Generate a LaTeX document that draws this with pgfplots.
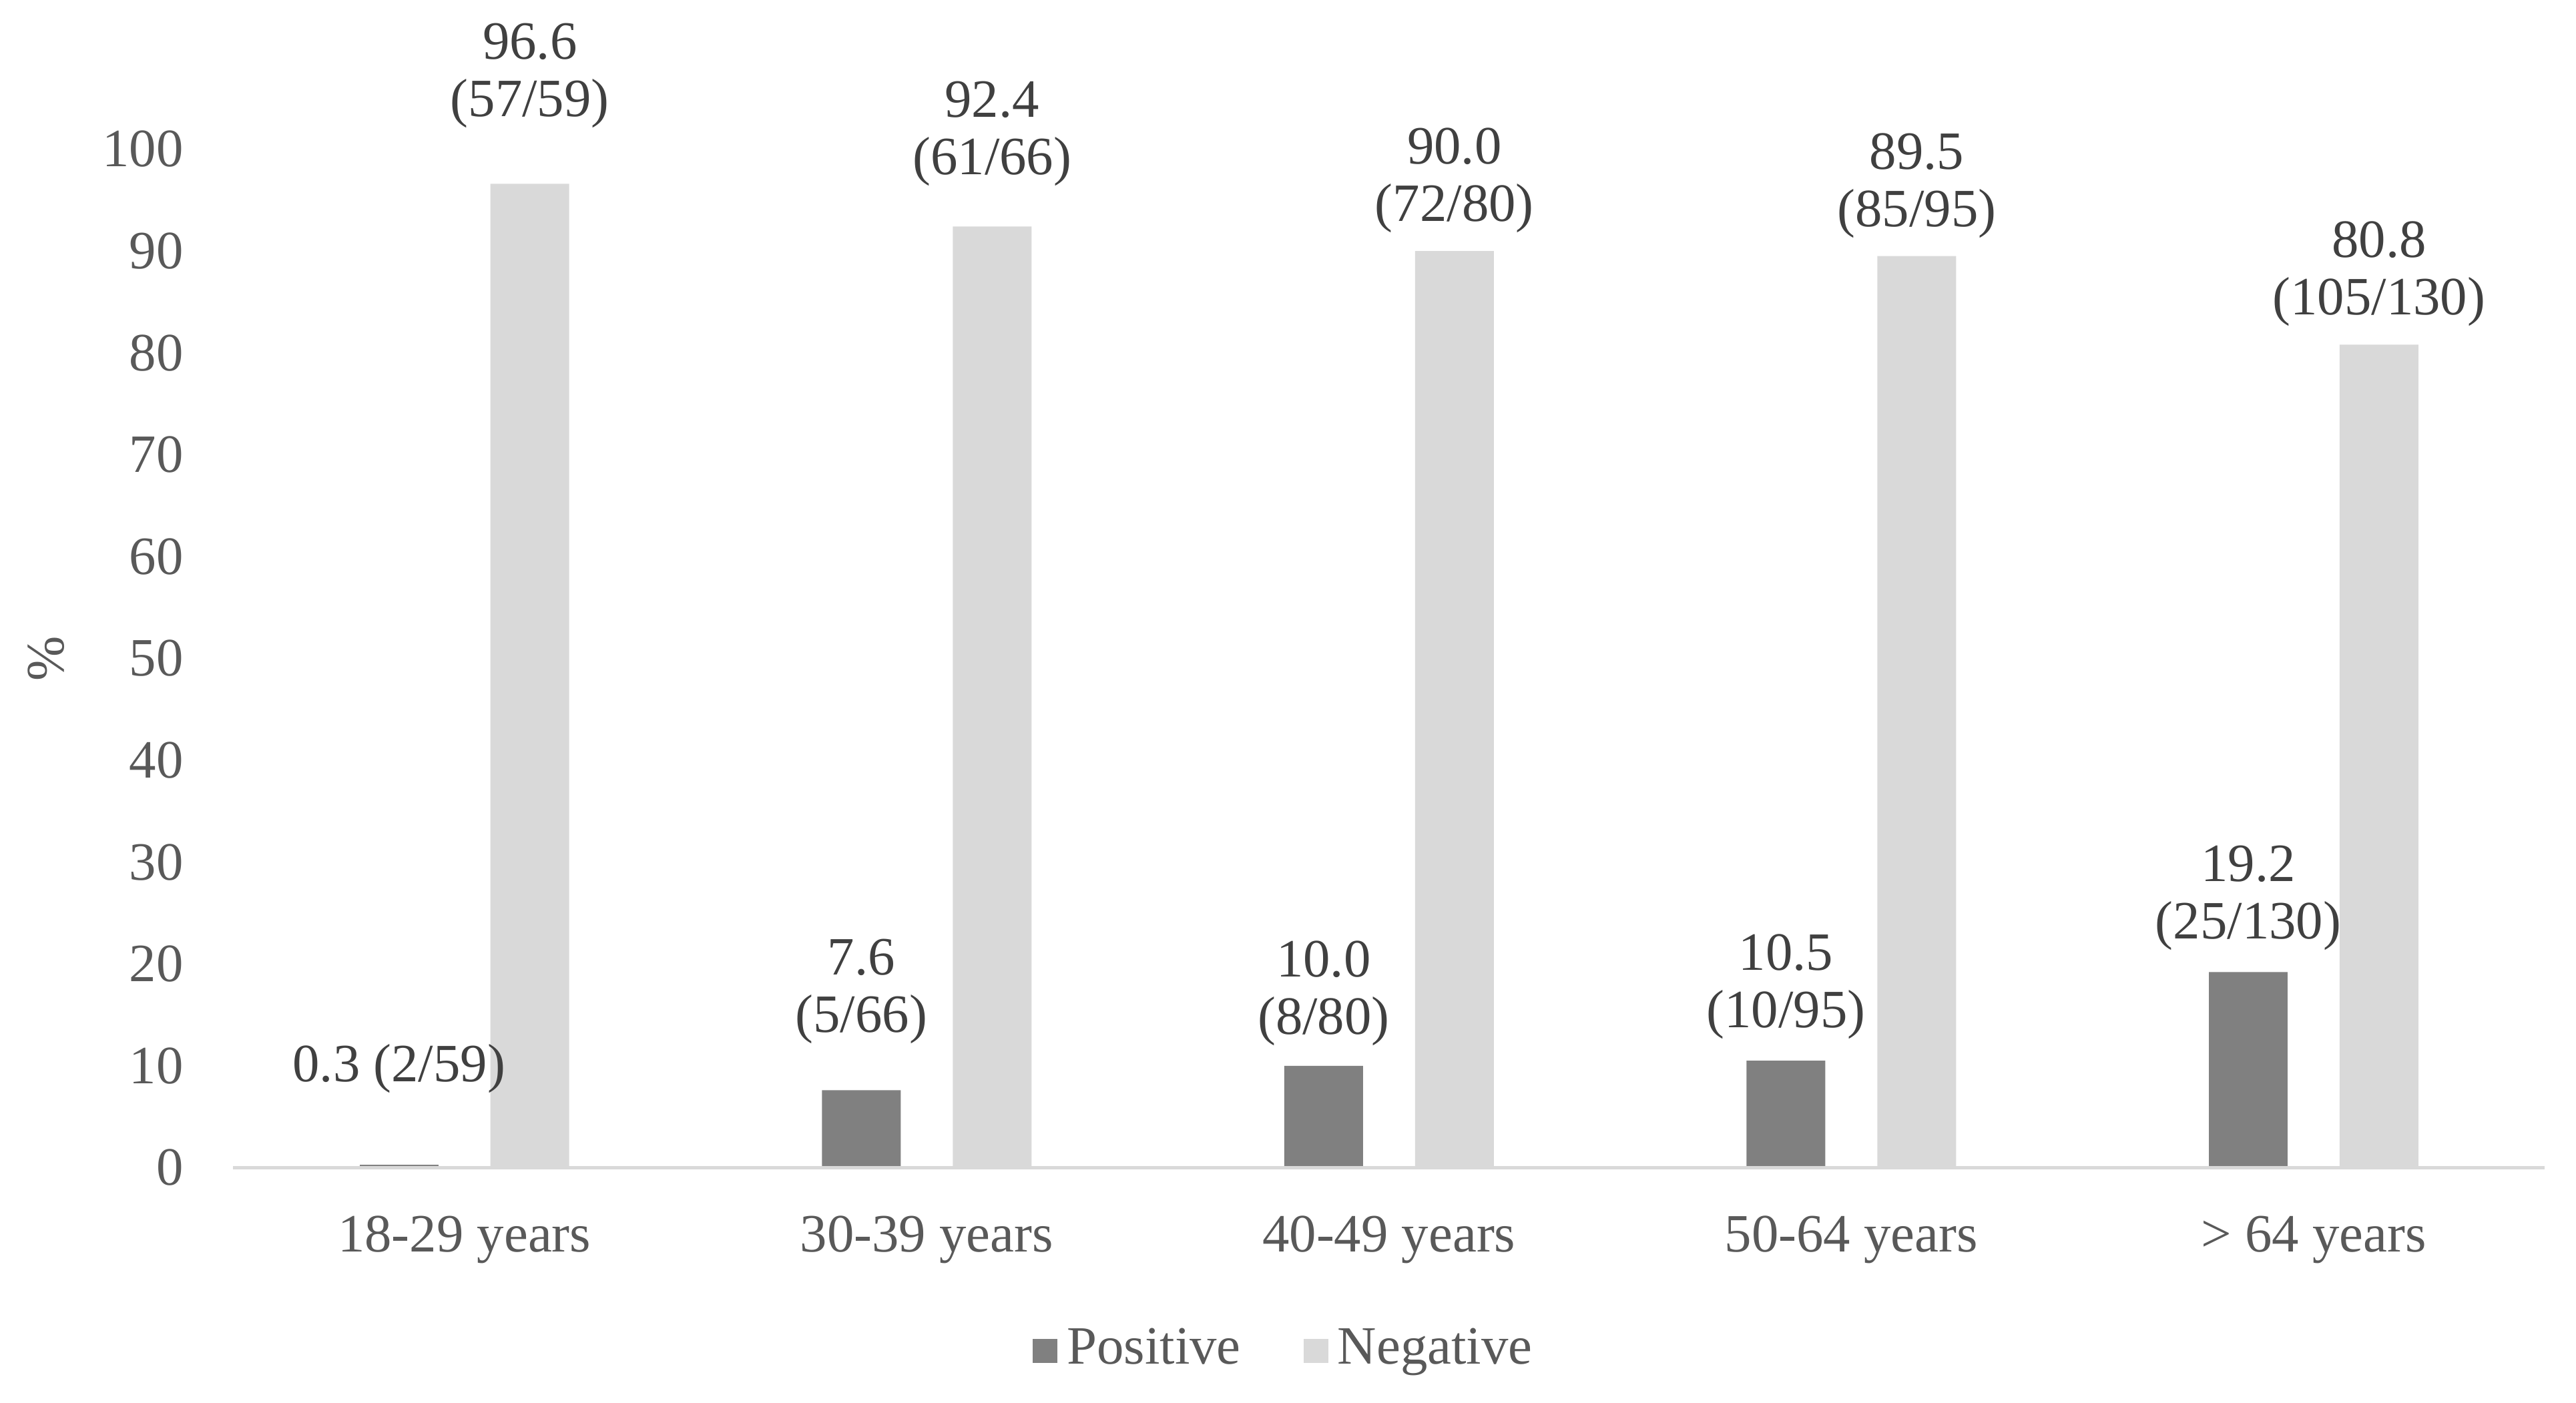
\documentclass[border=0pt]{standalone}
\usepackage{pgfplots}
\pgfplotsset{compat=1.18}
\usepackage{pgfplotstable}
\usepackage{fontspec}
\setmainfont{Liberation Serif}
\pgfkeys{/pgf/number format/assume math mode=true}
\definecolor{cpos}{HTML}{808080}
\definecolor{cneg}{HTML}{D9D9D9}
\definecolor{caxis}{HTML}{D9D9D9}
\definecolor{ctick}{HTML}{595959}
\definecolor{clab}{HTML}{404040}

% positive, two-line labels
\pgfplotstableread{
x y n N dy
1 7.6 5 66 9.7
2 10.0 8 80 4.1
3 10.5 10 95 4.4
4 19.2 25 130 4.4
}\postab

% positive, first group (single-line label)
\pgfplotstableread{
x y n N dy
0 0.3 2 59 5.3
}\posfirst

\pgfplotstableread{
x y n N dy
0 96.6 57 59 11.7
1 92.4 61 66 8.4
2 90.0 72 80 3.7
3 89.5 85 95 3.6
4 80.8 105 130 3.7
}\negtab

\newcommand{\pv}{\pgfmathprintnumber[fixed,fixed zerofill,precision=1]{\pgfplotspointmeta}}
\newcommand{\pn}[1]{\pgfmathprintnumber[fixed,precision=0]{#1}}

\begin{document}
\begin{tikzpicture}
\useasboundingbox (-1.748,-1.76) rectangle (17.554,8.75);
\begin{axis}[
  scale only axis,
  width=17.32cm, height=7.632cm,
  xmin=-0.5, xmax=4.5,
  ymin=0, ymax=100,
  ytick={0,10,...,100},
  xtick={0,1,2,3,4},
  xticklabels={18-29 years,30-39 years,40-49 years,50-64 years,> 64 years},
  axis x line=bottom,
  axis y line=left,
  axis on top,
  x axis line style={draw=caxis, line width=0.7pt, -},
  y axis line style={draw=none},
  major tick length=0pt,
  tick label style={font=\fontsize{11.5}{13}\selectfont, text=ctick},
  yticklabel style={xshift=-0.25cm},
  xticklabel style={yshift=-0.24cm},
  ylabel={\%},
  every axis y label/.style={at={(axis description cs:-0.081,0.5)}, rotate=90, anchor=center, font=\fontsize{11.5}{13}\selectfont, text=ctick},
  ybar,
  bar width=0.59cm,
  legend style={draw=none, fill=none, at={(0.456,-0.179)}, anchor=center, legend columns=2,
    font=\fontsize{11.5}{13}\selectfont, text=ctick,
    /tikz/every even column/.append style={column sep=0.4cm}},
  legend image code/.code={\fill[#1,draw=none] (0cm,-0.1cm) rectangle (0.185cm,0.085cm);},
  visualization depends on={\thisrow{n}\as\ln},
  visualization depends on={\thisrow{N}\as\lN},
  visualization depends on={\thisrow{dy}\as\ldy},
  nodes near coords style={align=center, anchor=south, inner sep=0pt, yshift=\ldy pt,
    text=clab, font=\fontsize{11.5}{12.25}\selectfont},
]
\addplot[fill=cpos, draw=none, bar shift=-0.49cm,
  nodes near coords={\pv\\(\pn{\ln}/\pn{\lN})}] table[x=x,y=y] {\postab};
\addlegendentry{Positive}
\addplot[fill=cneg, draw=none, bar shift=0.49cm,
  nodes near coords={\pv\\(\pn{\ln}/\pn{\lN})}] table[x=x,y=y] {\negtab};
\addlegendentry{Negative}
\addplot[fill=cpos, draw=none, bar shift=-0.49cm, forget plot,
  nodes near coords={\pv{} (\pn{\ln}/\pn{\lN})\\}] table[x=x,y=y] {\posfirst};
\end{axis}
\end{tikzpicture}
\end{document}
